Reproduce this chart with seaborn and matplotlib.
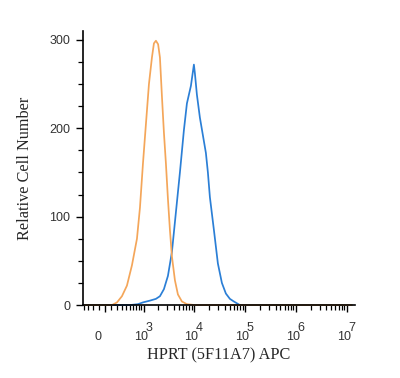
import numpy as np
import pandas as pd
import matplotlib
matplotlib.use("Agg")
import matplotlib.pyplot as plt
import matplotlib.transforms as mtransforms
import seaborn as sns

# Histogram values (fluorescence intensity, cell count)
orange_x = [-370, 116, 205, 304, 419, 556, 721, 837, 969, 1118, 1288, 1481, 1624, 1782,
            1970, 2142, 2347, 2570, 2815, 3085, 3377, 3697, 4237, 4853, 5818, 7290, 10470, 12500000]
orange_y = [0, 0, 3, 10, 22, 45, 75, 110, 160, 205, 250, 280, 296, 299,
            295, 280, 236, 195, 160, 120, 85, 55, 28, 12, 4, 1, 0, 0]

blue_x = [-370, 498, 758, 969, 1349, 1782, 2142, 2570, 3085, 3697, 4432, 5314, 6368, 7290,
          7981, 8741, 10004, 10469, 11455, 13118, 15026, 17204, 18828, 20610, 24696, 29574,
          35442, 42444, 50868, 60912, 79848, 12500000]
blue_y = [0, 0, 1, 3, 5, 7, 10, 18, 33, 60, 105, 150, 198, 228,
          238, 248, 272, 262, 238, 212, 192, 172, 150, 122, 85, 47,
          25, 13, 7, 4, 0, 0]

x_ticks = [0, 1e3, 1e4, 1e5, 1e6, 1e7]
x_tick_labels = ["0", "10", "10", "10", "10", "10"]
x_exponents = ["", "3", "4", "5", "6", "7"]
y_ticks = [0, 100, 200, 300]

sns.set_theme(style="white")
plt.rcParams["font.family"] = ["Liberation Sans", "DejaVu Sans"]

# biexponential-like display (arcsinh)
W = 360.0
def fwd(x):
    return np.arcsinh(np.asarray(x, dtype=float) / W) / np.log(10)

def inv(y):
    return W * np.sinh(np.asarray(y, dtype=float) * np.log(10))

fig = plt.figure(figsize=(4, 3.78), dpi=100)
ax = fig.add_axes([0.2075, 0.193, 0.68, 0.725])
ax.set_xscale("function", functions=(fwd, inv))

sns.lineplot(x=blue_x, y=blue_y, ax=ax, color="#2b7fd6", linewidth=1.25,
             sort=False, estimator=None, clip_on=False)
sns.lineplot(x=orange_x, y=orange_y, ax=ax, color="#f4a65a", linewidth=1.25,
             sort=False, estimator=None, clip_on=False)

ax.set_xlim(-419, 1.45e7)
ax.set_ylim(0, 310)

ax.set_xticks(x_ticks)
ax.set_xticklabels(x_tick_labels)
minor_x = [-400, -300, -200, -100] + [k * 100 for k in range(1, 10)]
for n in range(3, 7):
    minor_x += [k * 10 ** n for k in range(2, 10)]
ax.set_xticks(minor_x, minor=True)
ax.set_yticks(y_ticks)
ax.set_yticks(np.arange(0, 310, 25), minor=True)

tick_fs = 9
ax.tick_params(axis="both", which="major", direction="out", length=5, width=1,
               color="black", labelsize=tick_fs, labelcolor="#333333", bottom=True, left=True)
ax.tick_params(axis="both", which="minor", direction="out", length=3.5, width=0.9,
               color="black", bottom=True, left=True)
ax.tick_params(axis="x", which="major", pad=14)
ax.tick_params(axis="y", which="major", pad=4)

sns.despine(ax=ax)
for side in ["left", "bottom"]:
    ax.spines[side].set_color("black")
    ax.spines[side].set_linewidth(1.2)

ax.set_xlabel("HPRT (5F11A7) APC", family=["Liberation Serif", "DejaVu Serif"],
              fontsize=11.7, labelpad=3)
ax.set_ylabel("Relative Cell Number", family=["Liberation Serif", "DejaVu Serif"],
              fontsize=11.7, labelpad=12)
ax.grid(False)

# shift the base labels a little left of their ticks, as in the original
for i, tick in enumerate(ax.xaxis.get_major_ticks()):
    dx = -7 if i == 0 else -3
    lab = tick.label1
    lab.set_transform(lab.get_transform() +
                      mtransforms.ScaledTranslation(dx / 100, 0, fig.dpi_scale_trans))

# exponents, same size as the base, raised above it
blend = mtransforms.blended_transform_factory(ax.transData, ax.transAxes)
for xv, ex in zip(x_ticks, x_exponents):
    if ex:
        ax.text(xv, 0, ex, fontsize=tick_fs, color="#333333", ha="left", va="top",
                transform=blend + mtransforms.ScaledTranslation(2 / 100, -17 / 100,
                                                                fig.dpi_scale_trans))

fig.savefig("out.png", dpi=100)
